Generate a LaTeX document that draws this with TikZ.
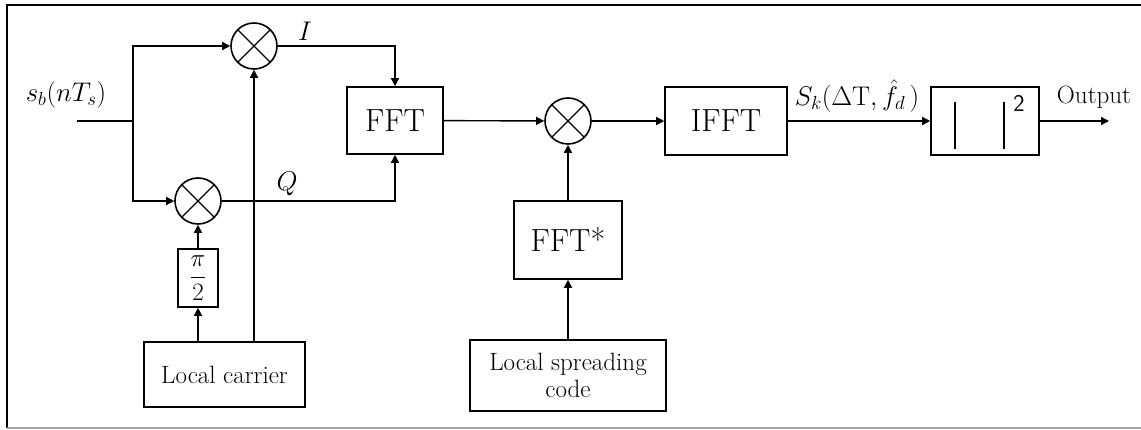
\RequirePackage{fix-cm}
\documentclass[tikz,border=0pt]{standalone}
\usetikzlibrary{arrows.meta}
\begin{document}
\begin{tikzpicture}[x=1pt,y=-1pt,
 conn/.style={line width=1.4pt},
 arr/.style={conn,-{Triangle[length=8pt,width=8pt]}},
 blk/.style={draw,line width=1.6pt,inner sep=0pt,align=center},
 mult/.style={draw,circle,line width=1.6pt,minimum size=46pt,inner sep=0pt,
   path picture={\draw[line width=1.4pt] (path picture bounding box.north west)--(path picture bounding box.south east)
     (path picture bounding box.north east)--(path picture bounding box.south west);}},
 big/.style={font=\fontsize{32}{36}\selectfont},
 mid/.style={font=\fontsize{25}{27}\selectfont},
 lbl/.style={font=\fontsize{27}{30}\selectfont,inner sep=0pt}]
\useasboundingbox (0,0) rectangle (1141,430);
\draw[line width=2pt] (7,428) -- (7,5) -- (1141,5);
\draw[line width=1.5pt,gray!70] (7,428) -- (1141,428);
% blocks
\node[mult] (mI) at (254,46) {};
\node[mult] (mQ) at (198,201) {};
\node[mult] (mM) at (568,121) {};
\node[blk,big,minimum width=96pt,minimum height=67pt] (fft) at (395,120.5) {FFT};
\node[blk,minimum width=40pt,minimum height=58pt] (pi2) at (198,278) {\fontsize{25}{28}\selectfont$\displaystyle\frac{\pi}{2}$};
\node[blk,mid,minimum width=161pt,minimum height=65pt] (car) at (224.5,374.5) {Local carrier};
\node[blk,big,minimum width=108pt,minimum height=78pt] (fftc) at (568,240) {FFT*};
\node[blk,mid,minimum width=196pt,minimum height=71pt] (spr) at (568,375.5) {Local spreading\\code};
\node[blk,big,minimum width=122pt,minimum height=68pt] (ifft) at (726,121) {IFFT};
\node[blk,minimum width=108pt,minimum height=68pt] (abs) at (985,121) {};
\draw[line width=2.6pt] (955,102) -- (955,149) (1004,102) -- (1004,149);
\node[font=\sffamily\fontsize{24}{26}\selectfont,inner sep=0pt] (sq) at (1019,103) {2};
% coordinates
\coordinate (in) at (77,121);
\coordinate (br) at (133,121);
\coordinate (out) at (1109,121);
% labels
\node[lbl] (lsb) at (66,95) {$s_b(nT_s)$};
\node[lbl] (lI) at (305,31) {$I$};
\node[lbl] (lQ) at (287,184) {$Q$};
\node[lbl] (lS) at (857,96) {$S_k(\Delta\mathrm{T},\hat{f}_d\,)$};
\node[font=\fontsize{25}{28}\selectfont,inner sep=0pt] (lout) at (1094,97) {Output};
% connectors
\draw[conn] (in) -- (br);
\draw[arr] (br) |- (mI);
\draw[arr] (br) |- (mQ);
\draw[arr] (mI) -| (fft);
\draw[arr] (mQ) -| (fft);
\draw[arr] (car.north -| mI) -- (mI);
\draw[arr] (car.north -| pi2) -- (pi2);
\draw[arr] (pi2) -- (mQ);
\draw[arr] (fft) -- (mM);
\draw[arr] (mM) -- (ifft);
\draw[arr] (spr) -- (fftc);
\draw[arr] (fftc) -- (mM);
\draw[arr] (ifft) -- (abs);
\draw[arr] (abs) -- (out);
\end{tikzpicture}
\end{document}
